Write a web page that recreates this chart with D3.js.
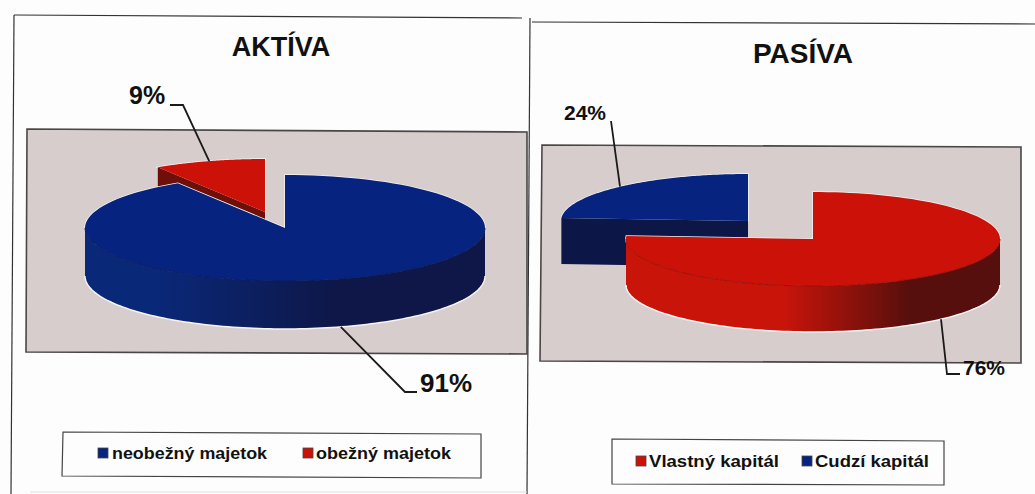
<!DOCTYPE html>
<html>
<head>
<meta charset="utf-8">
<script src="https://cdn.jsdelivr.net/npm/d3@7"></script>
<style>
  html, body { margin: 0; padding: 0; background: #fdfdfd; }
  svg { display: block; }
  text { font-family: "Liberation Sans", Arial, sans-serif; fill: #111; }
</style>
</head>
<body>
<div id="chart"></div>
<script>
'use strict'
const aktivaLabels = ['neobežný majetok', 'obežný majetok'];
const aktivaValues = [91, 9];
const pasivaLabels = ['Vlastný kapitál', 'Cudzí kapitál'];
const pasivaValues = [76, 24];

const width = 1035;
const height = 494;

const blue = { top: '#06237f', rim: '#081b62', light: '#0a2878', dark: '#0e1748', face: '#0c1748', stops: ['18%', '62%'] };
const red = { top: '#cc1208', rim: '#9c0f08', light: '#c9140a', dark: '#560f0c', face: '#6e0f0a', stops: ['42%', '76%'] };

const svg = d3.select('#chart')
  .append('svg')
    .attr('width', width)
    .attr('height', height);
const defs = svg.append('defs');

const line = d3.line();
const pie = d3.pie().sort(null);

// hand drawn looking frames of the scanned page
const frames = [
  [[14, 15], [522, 18]],
  [[14, 15], [11, 494]],
  [[530, 18], [527, 494]],
  [[532, 22], [1035, 24]]
];
svg.selectAll('line.frame')
  .data(frames)
  .enter()
  .append('line')
    .attr('class', 'frame')
    .attr('x1', d => d[0][0])
    .attr('y1', d => d[0][1])
    .attr('x2', d => d[1][0])
    .attr('y2', d => d[1][1])
    .attr('stroke', '#333')
    .attr('stroke-width', 1.2);
svg.append('line')
  .attr('x1', 30).attr('y1', 492).attr('x2', 527).attr('y2', 492)
  .attr('stroke', '#ddd');

function drawChart(cfg) {
  const g = svg.append('g');

  g.append('path')
    .attr('d', line(cfg.plot) + 'Z')
    .attr('fill', '#d7cdcc')
    .attr('stroke', '#4a4646')
    .attr('stroke-width', 1.6);

  g.append('text')
    .attr('x', cfg.titleX)
    .attr('y', cfg.titleY)
    .attr('text-anchor', 'middle')
    .attr('font-size', cfg.titleSize)
    .attr('font-weight', 'bold')
    .text(cfg.title);

  const x = d3.scaleLinear().domain([-1, 1]).range([-cfg.rx, cfg.rx]);
  const y = d3.scaleLinear().domain([-1, 1]).range([-cfg.ry, cfg.ry]);
  const rimPoint = (a, s, dz) => [
    s.cx + x(Math.sin(a)),
    s.cy + y(-Math.cos(a)) + (dz || 0)
  ];
  const rimArc = (a0, a1, s, dz) => d3.range(0, 121)
    .map(i => rimPoint(a0 + (a1 - a0) * i / 120, s, dz));

  const slices = pie(cfg.values).map((d, i) => ({
    start: d.startAngle,
    end: d.endAngle,
    value: d.data,
    colors: cfg.colors[i],
    cx: cfg.cx + cfg.offsets[i][0],
    cy: cfg.cy + cfg.offsets[i][1],
    index: i
  }));

  // exploded slice sits behind the main one
  slices.slice().reverse().forEach(s => {
    const gradId = cfg.id + '-side-' + s.index;
    const grad = defs.append('linearGradient')
      .attr('id', gradId)
      .attr('gradientUnits', 'userSpaceOnUse')
      .attr('x1', s.cx - cfg.rx).attr('x2', s.cx + cfg.rx)
      .attr('y1', 0).attr('y2', 0);
    grad.append('stop').attr('offset', '0%').attr('stop-color', s.colors.light);
    grad.append('stop').attr('offset', s.colors.stops[0]).attr('stop-color', s.colors.light);
    grad.append('stop').attr('offset', s.colors.stops[1]).attr('stop-color', s.colors.dark);
    grad.append('stop').attr('offset', '100%').attr('stop-color', s.colors.dark);

    const apex = [s.cx, s.cy];
    const top = [apex].concat(rimArc(s.start, s.end, s));

    // light halo left around the shapes by the scan
    g.append('path')
      .attr('d', line(top) + 'Z')
      .attr('fill', 'none')
      .attr('stroke', '#f6f3f3')
      .attr('stroke-width', 1.5);

    // cut faces turned to the viewer
    [[s.start, Math.sin(s.start) < -1e-6], [s.end, Math.sin(s.end) > 1e-6]]
      .filter(f => f[1])
      .forEach(f => {
        const p = rimPoint(f[0], s);
        g.append('path')
          .attr('d', line([apex, p, [p[0], p[1] + cfg.depth], [apex[0], apex[1] + cfg.depth]]) + 'Z')
          .attr('fill', s.colors.face);
      });

    // outer wall, front half of the ellipse only
    const a0 = Math.max(s.start, Math.PI / 2);
    const a1 = Math.min(s.end, Math.PI * 1.5);
    if (a1 > a0) {
      const wall = rimArc(a0, a1, s).concat(rimArc(a1, a0, s, cfg.depth));
      g.append('path')
        .attr('d', line(wall) + 'Z')
        .attr('fill', 'url(#' + gradId + ')');
      g.append('path')
        .attr('d', line(rimArc(a1, a0, s, cfg.depth)))
        .attr('fill', 'none')
        .attr('stroke', '#f6f3f3')
        .attr('stroke-width', 1.5);
    }

    g.append('path')
      .attr('d', line(top) + 'Z')
      .attr('fill', s.colors.top);

    if (a1 > a0) {
      g.append('path')
        .attr('d', line(rimArc(a0, a1, s)))
        .attr('fill', 'none')
        .attr('stroke', s.colors.rim)
        .attr('stroke-width', 1);
    }
  });

  // leaders start on the rim at the middle of the slice
  slices.forEach(s => {
    const mid = (s.start + s.end) / 2;
    const front = Math.cos(mid) < 0;
    const from = rimPoint(mid, s, front ? cfg.depth : 0);
    const lab = cfg.percent[s.index];
    g.append('path')
      .attr('d', line([from].concat(lab.elbow)))
      .attr('fill', 'none')
      .attr('stroke', '#1a1a1a')
      .attr('stroke-width', 1.8);
    g.append('text')
      .attr('x', lab.x)
      .attr('y', lab.y)
      .attr('font-size', lab.size)
      .attr('font-weight', 'bold')
      .text(s.value + '%');
  });

  g.append('path')
    .attr('d', line(cfg.legend.box) + 'Z')
    .attr('fill', '#fdfdfd')
    .attr('stroke', '#444')
    .attr('stroke-width', 1.2);

  cfg.labels.forEach((label, i) => {
    const it = cfg.legend.items[i];
    g.append('rect')
      .attr('x', it.swatch)
      .attr('y', cfg.legend.y - 11)
      .attr('width', 10)
      .attr('height', 10)
      .attr('fill', cfg.colors[i].top)
      .attr('stroke', '#444')
      .attr('stroke-width', 0.8);
    g.append('text')
      .attr('x', it.text)
      .attr('y', cfg.legend.y)
      .attr('font-size', 17)
      .attr('font-weight', 'bold')
      .attr('textLength', it.len)
      .attr('lengthAdjust', 'spacingAndGlyphs')
      .text(label);
  });
}

drawChart({
  id: 'aktiva',
  title: 'AKTÍVA',
  titleX: 281,
  titleY: 56,
  titleSize: 27,
  labels: aktivaLabels,
  values: aktivaValues,
  colors: [blue, red],
  cx: 285,
  cy: 228,
  rx: 200,
  ry: 53,
  depth: 48,
  offsets: [[0, 0], [-20, -16]],
  plot: [[27, 129], [527, 132], [527, 354], [26, 352]],
  percent: [
    { elbow: [[405, 392], [417, 392]], x: 420, y: 392, size: 26 },
    { elbow: [[183, 105], [170, 105]], x: 129, y: 104, size: 25 }
  ],
  legend: {
    box: [[63, 432], [481, 434], [481, 478], [62, 476]],
    y: 459,
    items: [{ swatch: 98, text: 112, len: 155 }, { swatch: 303, text: 316, len: 135 }]
  }
});

drawChart({
  id: 'pasiva',
  title: 'PASÍVA',
  titleX: 803,
  titleY: 63,
  titleSize: 28,
  labels: pasivaLabels,
  values: pasivaValues,
  colors: [red, blue],
  cx: 813,
  cy: 239,
  rx: 187,
  ry: 47,
  depth: 46,
  offsets: [[0, 0], [-65, -18]],
  plot: [[542, 145], [1021, 147], [1021, 363], [540, 361]],
  percent: [
    { elbow: [[947, 374], [960, 374]], x: 963, y: 375, size: 21 },
    { elbow: [[611, 121]], x: 564, y: 120, size: 21 }
  ],
  legend: {
    box: [[612, 439], [944, 441], [944, 485], [612, 484]],
    y: 467,
    items: [{ swatch: 636, text: 649, len: 130 }, { swatch: 802, text: 815, len: 114 }]
  }
});
</script>
</body>
</html>
